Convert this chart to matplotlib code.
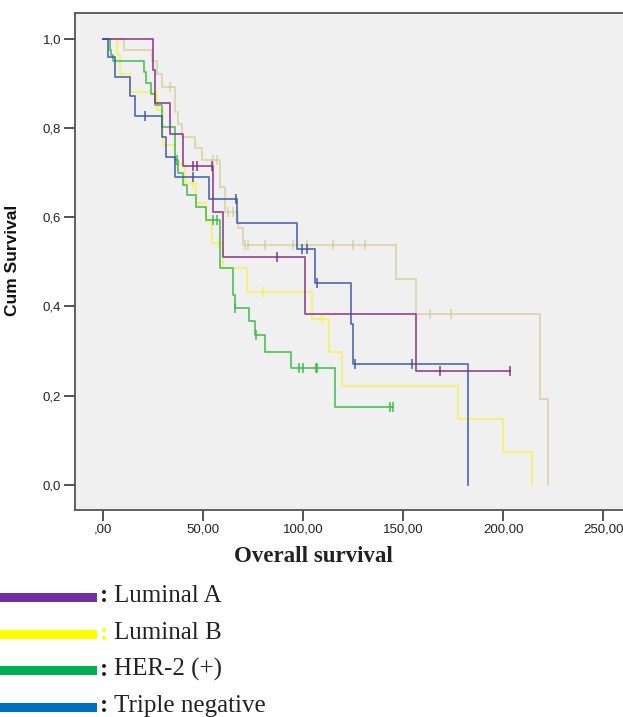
import numpy as np
import matplotlib.pyplot as plt
from matplotlib.patches import Rectangle

# Kaplan-Meier step data (time, survival after each drop)
lumA_t = [0, 25.1, 26.0, 33.5, 40.2, 55.0, 59.9, 101.0, 156.3]
lumA_s = [1.0, 0.929, 0.857, 0.786, 0.714, 0.612, 0.510, 0.383, 0.255]
lumA_cens = [45.2, 46.9, 54.4, 87.2, 168.4, 203.3]

lumB_t = [0, 7.0, 8.5, 13.7, 27.0, 30.3, 36.1, 41.1, 46.5, 51.6, 54.4, 59.9,
          72.2, 104.3, 113.1, 119.3, 177.2, 200.0, 214.2]
lumB_s = [1.0, 0.963, 0.922, 0.881, 0.840, 0.762, 0.720, 0.676, 0.631, 0.590,
          0.542, 0.487, 0.433, 0.372, 0.297, 0.222, 0.149, 0.075, 0.0]
lumB_cens = [45.2, 58.2, 80.2, 109.3]

her2_t = [0, 3.5, 4.3, 5.2, 20.6, 21.8, 24.0, 26.0, 29.7, 36.1, 37.8, 40.3,
          42.3, 46.6, 51.6, 58.6, 65.2, 66.1, 73.2, 76.0, 81.0, 94.0, 116.0]
her2_s = [1.0, 0.975, 0.963, 0.950, 0.926, 0.900, 0.876, 0.851, 0.803, 0.728,
          0.698, 0.672, 0.650, 0.624, 0.594, 0.486, 0.426, 0.396, 0.367, 0.336,
          0.299, 0.262, 0.175]
her2_cens = [37.0, 55.2, 56.9, 66.1, 76.5, 98.2, 99.9, 106.5, 107.0, 143.4, 145.1]

tn_t = [0, 2.8, 6.1, 13.5, 16.0, 29.7, 31.8, 36.1, 53.0, 67.2, 97.2, 106.2,
        124.1, 125.1, 182.2]
tn_s = [1.0, 0.958, 0.914, 0.872, 0.827, 0.780, 0.736, 0.690, 0.640, 0.588,
        0.528, 0.452, 0.361, 0.271, 0.0]
tn_cens = [21.3, 44.9, 66.4, 99.4, 102.1, 106.8, 126.0, 154.3]

# fifth (unlabelled) group drawn in khaki
oth_t = [0, 10.5, 24.8, 27.0, 29.4, 36.1, 37.8, 39.4, 46.1, 49.4, 58.5, 61.0,
         67.7, 70.2, 146.3, 156.3, 218.3, 222.5]
oth_s = [1.0, 0.975, 0.949, 0.922, 0.892, 0.836, 0.810, 0.780, 0.754, 0.728,
         0.668, 0.612, 0.575, 0.537, 0.462, 0.383, 0.192, 0.0]
oth_cens = [33.6, 55.2, 56.9, 62.7, 65.2, 71.0, 72.7, 81.0, 95.2, 101.8,
            115.1, 125.1, 131.0, 163.4, 173.7]

y_ticks = [0.0, 0.2, 0.4, 0.6, 0.8, 1.0]
y_labels = ['0,0', '0,2', '0,4', '0,6', '0,8', '1,0']
x_ticks = [0, 50, 100, 150, 200, 250]
x_labels = [',00', '50,00', '100,00', '150,00', '200,00', '250,00']

legend_names = ['Luminal A', 'Luminal B', 'HER-2 (+)', 'Triple negative']
legend_colors = ['#7030A0', '#FFFF00', '#00B050', '#0070C0']
colon_colors = ['#222222', '#FFFF00', '#222222', '#222222']

W, H = 623, 717
fig = plt.figure(figsize=(W / 100, H / 100), dpi=100)
fig.patch.set_facecolor('white')

# axes run off the right edge like in the original crop
ax = fig.add_axes([75 / W, 1 - 510 / H, (643.5 - 75) / W, (510 - 13) / H])
ax.set_facecolor('#F0F0F0')
ax.set_xlim(-13.8, 270)
ax.set_ylim(-0.056, 1.0576)
for sp in ax.spines.values():
    sp.set_color('#555555')
    sp.set_linewidth(1.3)


def km(t, s, cens, color, z):
    t = np.asarray(t, float)
    s = np.asarray(s, float)
    end = max(t[-1], max(cens) if cens else 0)
    tt = np.append(t, end)
    ss = np.append(s, s[-1])
    ax.step(tt, ss, where='post', color=color, lw=1.3, alpha=0.8, zorder=z)
    idx = np.searchsorted(t, cens, side='right') - 1
    ax.plot(cens, s[idx], ls='none', marker='|', ms=7, mew=1.2,
            color=color, alpha=0.85, zorder=z)


km(oth_t, oth_s, oth_cens, '#D6CE9C', 2)
km(lumB_t, lumB_s, lumB_cens, '#F6F04E', 3)
km(her2_t, her2_s, her2_cens, '#35B844', 4)
km(lumA_t, lumA_s, lumA_cens, '#83287F', 5)
km(tn_t, tn_s, tn_cens, '#3550AC', 6)

ax.set_yticks(y_ticks)
ax.set_yticklabels(y_labels)
ax.set_xticks(x_ticks)
ax.set_xticklabels(x_labels)
ax.tick_params(length=8, width=1.3, color='#444444', labelsize=9.5,
               labelcolor='#222222', pad=2)
for lab in ax.get_xticklabels() + ax.get_yticklabels():
    lab.set_family('Liberation Sans')

ax.set_ylabel('Cum Survival', fontsize=12.5, fontweight='bold',
              family='Liberation Sans', color='#111111')
ax.yaxis.set_label_coords((20 - 75) / (643.5 - 75), (510 - 260) / 497)

fig.text(313 / W, 1 - 556 / H, 'Overall survival', ha='center', va='center',
         fontsize=16.5, fontweight='bold', family='Liberation Serif',
         color='#222222')

# legend block below the chart
rows_y = [597, 634, 670.5, 707]
for name, col, ccol, yy in zip(legend_names, legend_colors, colon_colors, rows_y):
    fig.patches.append(Rectangle((0, 1 - (yy + 4.5) / H), 96.5 / W, 9 / H,
                                 transform=fig.transFigure, color=col,
                                 lw=0))
    fig.text(100 / W, 1 - (yy - 1) / H, ':', ha='left', va='center',
             fontsize=18, fontweight='bold', family='Liberation Serif',
             color=ccol)
    fig.text(114 / W, 1 - (yy - 1) / H, name, ha='left', va='center',
             fontsize=18, family='Liberation Serif', color='#222222')

fig.savefig('out.png', dpi=100)
